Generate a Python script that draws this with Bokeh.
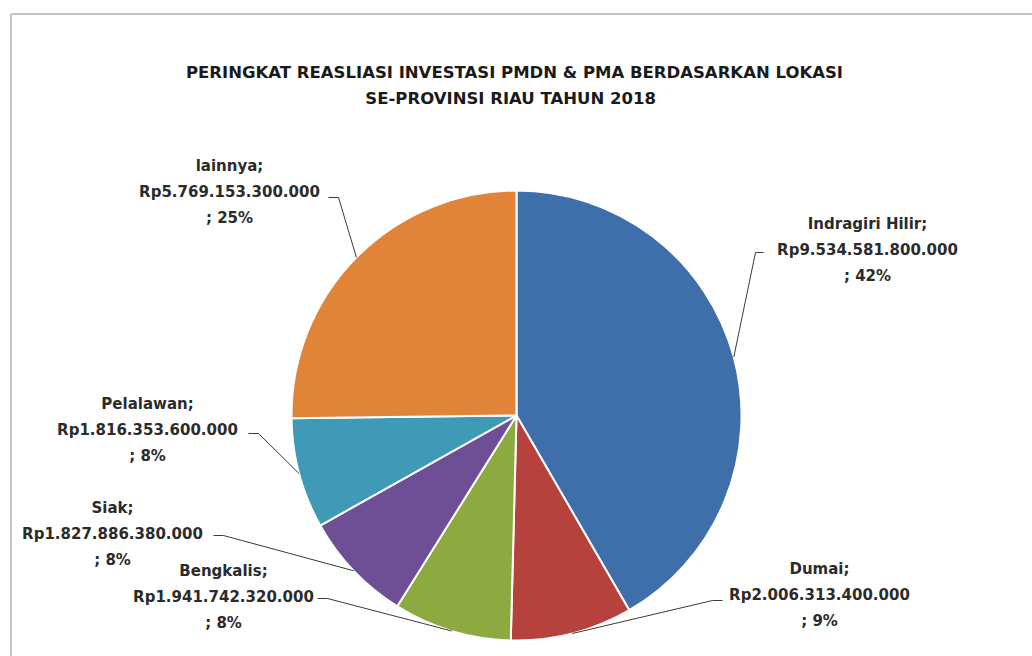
import math
from bokeh.plotting import figure
from bokeh.models import Range1d
from bokeh.core.properties import value
from bokeh.embed import file_html
from bokeh.resources import INLINE

# ---- data ----
categories = ["Indragiri Hilir", "Dumai", "Bengkalis", "Siak", "Pelalawan", "lainnya"]
values = [9534581800000, 2006313400000, 1941742320000, 1827886380000, 1816353600000, 5769153300000]
colors = ["#3F6FAA", "#B5423D", "#8CAA3F", "#6E4F95", "#3E9AB7", "#E0843A"]
title_lines = ["PERINGKAT REASLIASI INVESTASI PMDN & PMA BERDASARKAN LOKASI",
               "SE-PROVINSI RIAU TAHUN  2018"]

# ---- layout (screen pixel positions in the page) ----
W, H = 1032, 656
def sx(x):
    return x
def sy(y):
    return H - y

CX, CY, R = 516, 415, 225
label_x = [867, 819, 223, 112, 147, 229]      # centre of label block
label_y = [249, 594, 596, 533, 429, 191]      # middle line of label block
label_dy = 26
stub_x0 = [763, 722, 317, 213, 248, 328]      # leader start (near text)
stub_x1 = [755, 712, 327, 223, 258, 338]
stub_y = [252, 600, 598, 535, 433, 197]

p = figure(width=W, height=H, output_backend="svg", toolbar_location=None,
           x_range=Range1d(0, W), y_range=Range1d(0, H), min_border=0)
p.axis.visible = False
p.grid.visible = False
p.outline_line_color = None
p.background_fill_color = "white"
p.border_fill_color = "white"

# chart border
p.quad(left=[sx(10.5)], right=[W + 50], top=[sy(13.5)], bottom=[-50],
       fill_color=None, line_color="#c4c4c4", line_width=2)

total = float(sum(values))
fracs = [v / total for v in values]
cum = [0.0]
for f in fracs:
    cum.append(cum[-1] + f)
starts = [math.pi / 2 - 2 * math.pi * cum[i] for i in range(len(values))]
ends = [math.pi / 2 - 2 * math.pi * cum[i + 1] for i in range(len(values))]

p.wedge(x=sx(CX), y=sy(CY), radius=R, start_angle=starts, end_angle=ends,
        direction="clock", fill_color=colors, line_color="white", line_width=2)

# leader lines
for i in range(len(values)):
    mid = 2 * math.pi * (cum[i] + fracs[i] / 2)
    ex = CX + R * math.sin(mid)
    ey = CY - R * math.cos(mid)
    p.line(x=[sx(stub_x0[i]), sx(stub_x1[i]), sx(ex)],
           y=[sy(stub_y[i]), sy(stub_y[i]), sy(ey)],
           line_color="#3a3a3a", line_width=1)

# labels
tx, ty, tt = [], [], []
for i, (c, v) in enumerate(zip(categories, values)):
    pct = round(v / total * 100)
    lines = [c + ";", "Rp" + f"{v:,}".replace(",", "."), "; " + f"{pct}%"]
    for k, s in enumerate(lines):
        tx.append(sx(label_x[i]))
        ty.append(sy(label_y[i] + (k - 1) * label_dy))
        tt.append(s)
p.text(x=tx, y=ty, text=tt, text_align="center", text_baseline="middle",
       text_font=value("DejaVu Sans"), text_font_style="bold",
       text_font_size="15px", text_color="#2b2b2b")

# title
p.text(x=[sx(514), sx(513)], y=[sy(72), sy(98)], text=title_lines,
       text_align="center", text_baseline="middle",
       text_font=value("DejaVu Sans"), text_font_style="bold",
       text_font_size="16.5px", text_color="#1a1a1a")

open("out.html", "w").write(file_html(p, INLINE))
